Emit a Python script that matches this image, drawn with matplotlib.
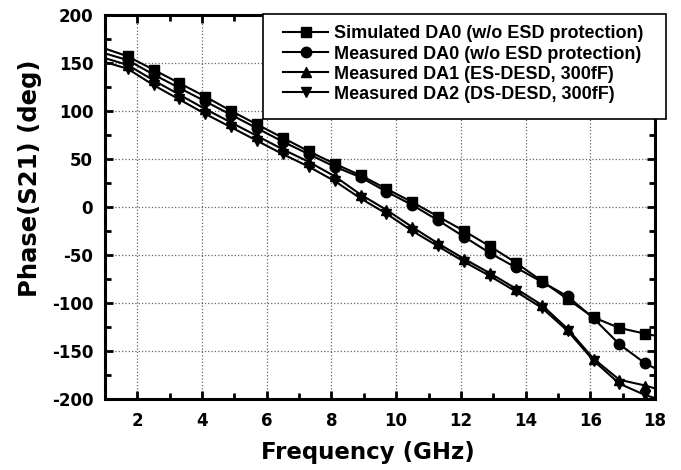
import matplotlib
matplotlib.use("Agg")
import matplotlib.pyplot as plt
from matplotlib.ticker import MultipleLocator
from matplotlib.patches import Rectangle

plt.rcParams['font.family'] = ['DejaVu Sans']
plt.rcParams['font.weight'] = 'bold'
plt.rcParams['axes.unicode_minus'] = False

freq = [1.0, 1.7, 2.5, 3.3, 4.1, 4.9, 5.7, 6.5, 7.3, 8.1, 8.9, 9.7, 10.5, 11.3,
        12.1, 12.9, 13.7, 14.5, 15.3, 16.1, 16.9, 17.7, 18.0]
sim_da0 = [165, 157, 143, 129, 115, 100, 86, 72, 58, 45, 33, 19, 5, -10,
           -25, -41, -58, -77, -96, -115, -126, -132, -134]
meas_da0 = [160, 153, 138, 124, 110, 96, 82, 68, 55, 42, 31, 16, 2, -14,
            -31, -48, -63, -78, -93, -116, -143, -163, -168]
meas_da1 = [155, 148, 132, 117, 102, 88, 74, 60, 47, 32, 13, -3, -21, -38,
            -54, -69, -85, -102, -127, -158, -180, -186, -189]
meas_da2 = [151, 144, 127, 112, 97, 83, 69, 55, 42, 27, 9, -7, -25, -41,
            -57, -72, -88, -105, -129, -160, -184, -196, -199]

labels = ["Simulated DA0 (w/o ESD protection)",
          "Measured DA0 (w/o ESD protection)",
          "Measured DA1 (ES-DESD, 300fF)",
          "Measured DA2 (DS-DESD, 300fF)"]
markers = ['s', 'o', '^', 'v']
series = [sim_da0, meas_da0, meas_da1, meas_da2]

W, H = 681, 470
fig = plt.figure(figsize=(W/100, H/100), dpi=100)
ax = fig.add_axes([105/W, 1-399/H, 550/W, 384/H])

for vals, m, lab in zip(series, markers, labels):
    ax.plot(freq, vals, color='black', lw=1.5, marker=m, markersize=7.5,
            markevery=slice(1, -1), label=lab)

ax.set_xlim(1, 18)
ax.set_ylim(-200, 200)
ax.xaxis.set_major_locator(MultipleLocator(2))
ax.xaxis.set_minor_locator(MultipleLocator(1))
ax.yaxis.set_major_locator(MultipleLocator(50))
ax.yaxis.set_minor_locator(MultipleLocator(25))
ax.tick_params(which='both', direction='in', top=True, right=True, width=2)
ax.tick_params(which='major', length=6, labelsize=12)
ax.tick_params(axis='y', which='major', pad=8.5)
ax.tick_params(axis='x', which='major', pad=9.5)
ax.tick_params(which='minor', length=4)
for lab in ax.get_xticklabels() + ax.get_yticklabels():
    lab.set_fontweight('bold')
for s in ax.spines.values():
    s.set_linewidth(2.2)
ax.grid(True, which='major', linestyle=':', color='0.4', lw=0.9)

ax.set_xlabel("Frequency (GHz)", fontsize=16.5, fontweight='bold')
ax.set_ylabel("Phase(S21) (deg)", fontsize=17.5, fontweight='bold')
ax.xaxis.set_label_coords((368-105)/550, -(441-399)/384)
ax.yaxis.set_label_coords((42-105)/550, 1-(178-15)/384)

# legend frame
frame = Rectangle((263/W, 1-119/H), (666-263)/W, (119-14)/H,
                  transform=fig.transFigure, facecolor='white',
                  edgecolor='black', lw=1.2, zorder=5, clip_on=False)
ax.add_artist(frame)
leg = ax.legend(loc='upper left', bbox_to_anchor=(283/W, 1-25.5/H),
                bbox_transform=fig.transFigure, borderaxespad=0, borderpad=0,
                prop={'family': 'Liberation Sans', 'weight': 'bold', 'size': 13},
                frameon=False, handlelength=2.5,
                handletextpad=0.3, labelspacing=0.17)
leg.set_zorder(6)

fig.savefig("out.png", dpi=100)
